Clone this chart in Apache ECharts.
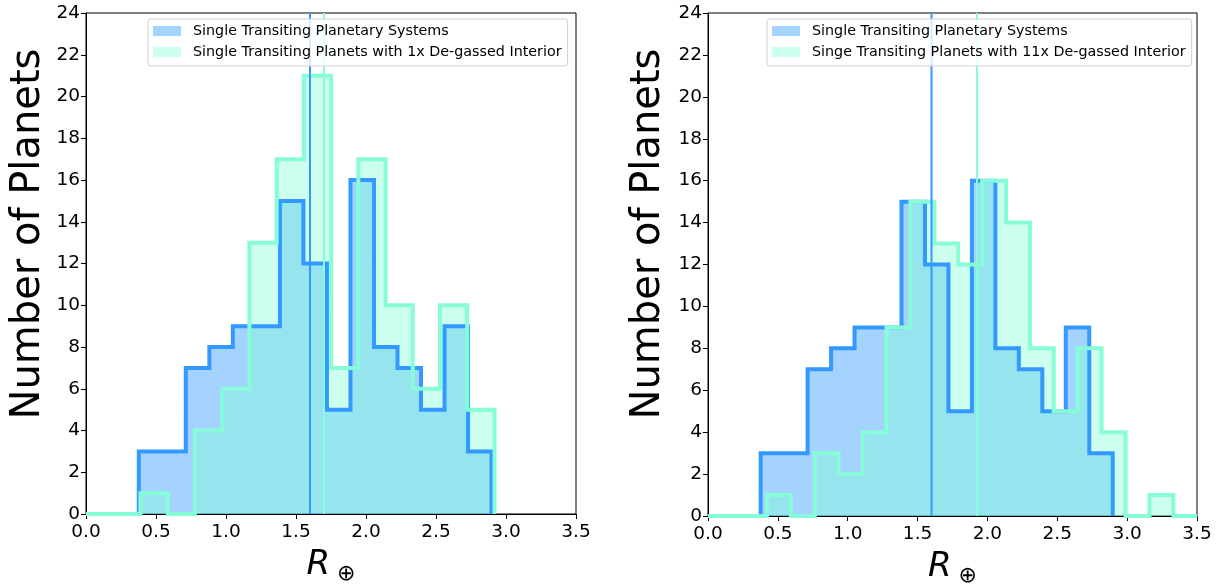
<!DOCTYPE html>
<html>
<head>
<meta charset="utf-8">
<script src="https://cdn.jsdelivr.net/npm/echarts@6/dist/echarts.min.js"></script>
<style>
html,body{margin:0;padding:0;background:#fff;}
#chart{width:1225px;height:586px;}
</style>
</head>
<body>
<div id="chart"></div>
<script>
// ---------- data ----------
const xTicks = [0.0, 0.5, 1.0, 1.5, 2.0, 2.5, 3.0, 3.5];
const yTicks = [0, 2, 4, 6, 8, 10, 12, 14, 16, 18, 20, 22, 24];

const yTitle = 'Number of Planets';
const seriesNameBase = 'Single Transiting Planetary Systems';
const seriesNameLeft = 'Single Transiting Planets with 1x De-gassed Interior';
const seriesNameRight = 'Singe Transiting Planets with 11x De-gassed Interior';

// Left panel
const leftBlueEdges = [0.377, 0.545, 0.713, 0.881, 1.049, 1.217, 1.385, 1.553, 1.721, 1.889, 2.057, 2.225, 2.393, 2.561, 2.729, 2.897];
const leftBlueCounts = [3, 3, 7, 8, 9, 9, 15, 12, 5, 16, 8, 7, 5, 9, 3];
const leftTealEdges = [0.0, 0.195, 0.389, 0.584, 0.778, 0.973, 1.167, 1.362, 1.556, 1.751, 1.945, 2.140, 2.334, 2.529, 2.723, 2.918];
const leftTealCounts = [0, 0, 1, 0, 4, 6, 13, 17, 21, 7, 17, 10, 6, 10, 5];
const leftMedians = [1.60, 1.70];

// Right panel
const rightBlueEdges = [0.377, 0.545, 0.713, 0.881, 1.049, 1.217, 1.385, 1.553, 1.721, 1.889, 2.057, 2.225, 2.393, 2.561, 2.729, 2.897];
const rightBlueCounts = [3, 3, 7, 8, 9, 9, 15, 12, 5, 16, 8, 7, 5, 9, 3];
const rightTealEdges = [0.0, 0.422, 0.593, 0.764, 0.935, 1.106, 1.278, 1.449, 1.620, 1.791, 1.962, 2.133, 2.304, 2.475, 2.646, 2.817, 2.989, 3.160, 3.331, 3.502];
const rightTealCounts = [0, 1, 0, 3, 2, 4, 9, 15, 13, 12, 16, 14, 8, 5, 8, 4, 0, 1, 0];
const rightMedians = [1.60, 1.925];

// ---------- styling ----------
const BLUE_LINE = '#3399ff';
const TEAL_LINE = '#86fdd8';
const BLUE_FILL = 'rgba(30,144,255,0.4)';
const TEAL_FILL = 'rgba(127,255,212,0.4)';
const FONT = 'DejaVu Sans';

function stepPoints(edges, counts) {
  const pts = [[edges[0], 0]];
  for (let i = 0; i < counts.length; i++) {
    pts.push([edges[i], counts[i]]);
    pts.push([edges[i + 1], counts[i]]);
  }
  pts.push([edges[edges.length - 1], 0]);
  return pts;
}

const grids = [
  {left: 86, top: 13, width: 490, height: 501},
  {left: 708, top: 13, width: 489, height: 503}
];

function xAxisFor(i) {
  return {
    type: 'value', gridIndex: i, min: xTicks[0], max: xTicks[xTicks.length - 1], interval: 0.5,
    axisLine: {show: true, onZero: false, lineStyle: {color: '#000', width: 1}},
    axisTick: {show: true, length: 5, lineStyle: {color: '#000', width: 1}},
    splitLine: {show: false},
    axisLabel: {color: '#000', fontSize: 18.5, fontFamily: FONT, margin: 9, formatter: v => v.toFixed(1)},
    name: '{r|R}{s|⊕}', nameLocation: 'middle', nameGap: 31,
    nameTextStyle: {
      rich: {
        r: {fontSize: 34, fontStyle: 'italic', fontFamily: FONT, color: '#000'},
        s: {fontSize: 22, fontFamily: FONT, color: '#000', padding: [18, 0, 0, 7]}
      }
    }
  };
}
function yAxisFor(i) {
  return {
    type: 'value', gridIndex: i, min: yTicks[0], max: yTicks[yTicks.length - 1], interval: 2,
    axisLine: {show: true, lineStyle: {color: '#000', width: 1}},
    axisTick: {show: true, length: 5, lineStyle: {color: '#000', width: 1}},
    splitLine: {show: false},
    axisLabel: {color: '#000', fontSize: 18.5, fontFamily: FONT, margin: 6}
  };
}

function panelSeries(i, blueEdges, blueCounts, tealEdges, tealCounts, medians, tealName) {
  const common = {type: 'line', xAxisIndex: i, yAxisIndex: i, symbol: 'none', silent: true, animation: false};
  return [
    Object.assign({}, common, {name: seriesNameBase, data: stepPoints(blueEdges, blueCounts),
      lineStyle: {width: 0, opacity: 0}, areaStyle: {color: BLUE_FILL, opacity: 1}, z: 1}),
    Object.assign({}, common, {name: tealName, data: stepPoints(tealEdges, tealCounts),
      lineStyle: {width: 0, opacity: 0}, areaStyle: {color: TEAL_FILL, opacity: 1}, z: 2}),
    Object.assign({}, common, {name: seriesNameBase, data: stepPoints(blueEdges, blueCounts),
      lineStyle: {width: 4, color: BLUE_LINE, join: 'miter'}, itemStyle: {color: BLUE_LINE}, z: 3}),
    Object.assign({}, common, {name: tealName, data: stepPoints(tealEdges, tealCounts),
      lineStyle: {width: 4, color: TEAL_LINE, join: 'miter'}, itemStyle: {color: TEAL_LINE}, z: 4}),
    Object.assign({}, common, {name: 'median-base-' + i, data: [[medians[0], yTicks[0]], [medians[0], yTicks[yTicks.length - 1]]],
      lineStyle: {width: 2, color: BLUE_LINE}, z: 5}),
    Object.assign({}, common, {name: 'median-teal-' + i, data: [[medians[1], yTicks[0]], [medians[1], yTicks[yTicks.length - 1]]],
      lineStyle: {width: 2, color: TEAL_LINE}, z: 5})
  ];
}

function legendFor(left, tealName) {
  return {
    orient: 'vertical', left: left, top: 19, z: 10,
    icon: 'rect', itemWidth: 28, itemHeight: 10, itemGap: 5,
    padding: [4, 6, 6, 5],
    backgroundColor: 'rgba(255,255,255,0.8)', borderColor: '#d0d0d0', borderWidth: 1, borderRadius: 3,
    textStyle: {fontSize: 14.3, lineHeight: 16, fontFamily: FONT, color: '#000', padding: [0, 0, 0, 7]},
    selectedMode: false,
    data: [
      {name: seriesNameBase, itemStyle: {color: '#a5d3ff', borderWidth: 0}},
      {name: tealName, itemStyle: {color: '#ccffee', borderWidth: 0}}
    ]
  };
}

function yTitleText(x, y) {
  return {
    type: 'text', x: x, y: y, rotation: Math.PI / 2, silent: true,
    style: {text: yTitle, font: '40px "DejaVu Sans"', fill: '#000', align: 'center', verticalAlign: 'middle'}
  };
}

const chart = echarts.init(document.getElementById('chart'), null, {renderer: 'canvas'});
chart.setOption({
  animation: false,
  backgroundColor: '#fff',
  grid: grids.map(g => Object.assign({show: true, borderColor: '#000', borderWidth: 1, backgroundColor: 'transparent',
    containLabel: false, outerBoundsMode: 'none'}, g)),
  xAxis: [xAxisFor(0), xAxisFor(1)],
  yAxis: [yAxisFor(0), yAxisFor(1)],
  legend: [legendFor(148, seriesNameLeft), legendFor(767, seriesNameRight)],
  graphic: [yTitleText(29, 234), yTitleText(649, 234)],
  series: [].concat(
    panelSeries(0, leftBlueEdges, leftBlueCounts, leftTealEdges, leftTealCounts, leftMedians, seriesNameLeft),
    panelSeries(1, rightBlueEdges, rightBlueCounts, rightTealEdges, rightTealCounts, rightMedians, seriesNameRight)
  )
});
</script>
</body>
</html>
